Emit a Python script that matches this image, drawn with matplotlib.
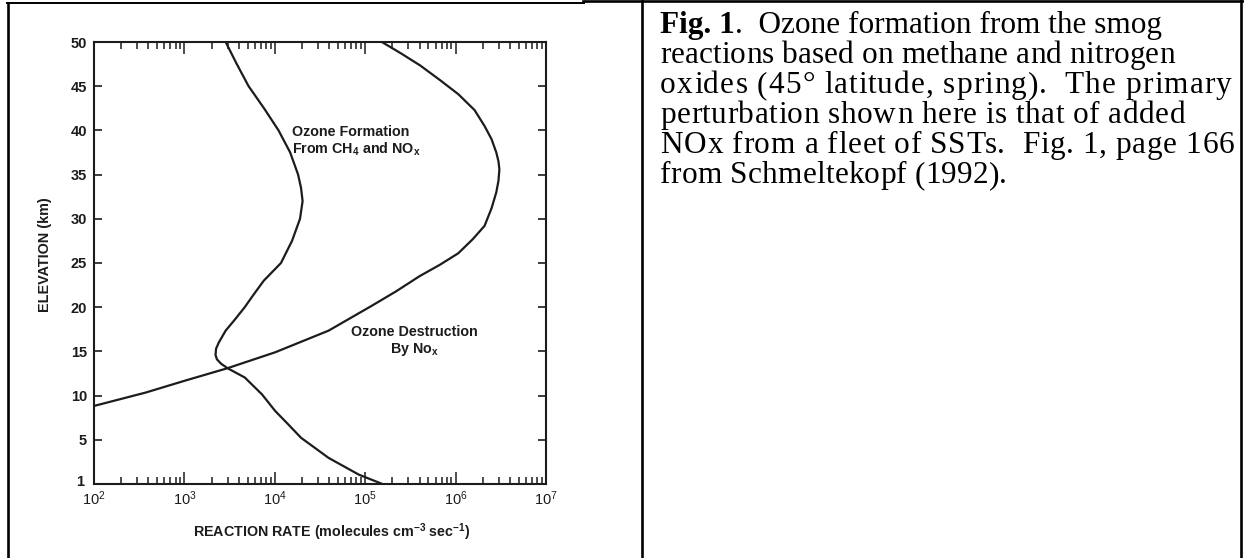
import matplotlib
matplotlib.use("Agg")
import matplotlib.pyplot as plt
from matplotlib.lines import Line2D
from matplotlib.transforms import ScaledTranslation

plt.rcParams['font.family'] = ['Liberation Sans', 'DejaVu Sans']
plt.rcParams['mathtext.fontset'] = 'custom'
plt.rcParams['mathtext.rm'] = 'Liberation Sans:bold'
plt.rcParams['mathtext.it'] = 'Liberation Sans:bold'
plt.rcParams['mathtext.bf'] = 'Liberation Sans:bold'
plt.rcParams['mathtext.default'] = 'regular'

ink = '#1c1c1c'

# ozone formation from CH4 and NOx: elevation (km) vs reaction rate
formation_km = [50, 47.5, 45, 42.5, 40, 37.5, 35, 33.5, 32, 30, 27.5, 25, 23,
                21.5, 20, 18.5, 17.35, 16, 15.3, 14.6, 14.1, 13.6, 13.1, 12.05,
                10.15, 8.26, 6.74, 5.23, 2.95, 1.06, 0]
formation_rate = [2.86e3, 3.80e3, 5.13e3, 7.6e3, 1.10e4, 1.48e4, 1.81e4,
                  1.95e4, 2.03e4, 1.90e4, 1.55e4, 1.17e4, 7.55e3, 5.9e3,
                  4.65e3, 3.55e3, 2.86e3, 2.40e3, 2.24e3, 2.21e3, 2.29e3,
                  2.55e3, 3.0e3, 4.65e3, 7.2e3, 1.01e4, 1.41e4, 1.95e4, 3.94e4,
                  8.5e4, 1.55e5]

# ozone destruction by NOx
destruction_km = [50, 48.7, 47.35, 45.7, 44.1, 42.3, 40.5, 39, 37.5, 36.5,
                  35.6, 34.3, 33, 31.2, 29.2, 27.7, 26.1, 24.8, 23.5, 21.8,
                  20.2, 17.35, 14.9, 13.1, 11.67, 10.34, 8.83]
destruction_rate = [1.53e5, 2.5e5, 4.05e5, 6.7e5, 1.07e6, 1.62e6, 2.09e6,
                    2.5e6, 2.82e6, 2.98e6, 3.05e6, 2.98e6, 2.82e6, 2.5e6,
                    2.09e6, 1.55e6, 1.07e6, 6.7e5, 3.98e5, 2.2e5, 1.2e5,
                    3.94e4, 1.01e4, 3.0e3, 1.0e3, 372, 100]

y_ticks = [0, 5, 10, 15, 20, 25, 30, 35, 40, 45, 50]
y_tick_labels = ['1', '5', '10', '15', '20', '25', '30', '35', '40', '45', '50']
x_ticks = [1e2, 1e3, 1e4, 1e5, 1e6, 1e7]
x_tick_labels = ['$10^{2}$', '$10^{3}$', '$10^{4}$', '$10^{5}$', '$10^{6}$', '$10^{7}$']

caption = [
    "reactions based on methane and nitrogen",
    "oxides (45\u00b0 latitude, spring).  The primary",
    "perturbation shown here is that of added",
    "NOx from a fleet of SSTs.  Fig. 1, page 166",
    "from Schmeltekopf (1992).",
]
caption_ends = [1175, 1233, 1186, 1235, 1007]   # right ends of the lines (px)

W, H = 1244, 558
fig = plt.figure(figsize=(W / 100, H / 100), dpi=100)
ax = fig.add_axes([94 / W, (H - 484) / H, 452 / W, 442 / H])

ax.plot(formation_rate, formation_km, color=ink, lw=1.6, solid_joinstyle='round')
ax.plot(destruction_rate, destruction_km, color=ink, lw=1.6, solid_joinstyle='round')

ax.set_xscale('log')
ax.set_xlim(1e2, 1e7)
ax.set_ylim(0, 50)
ax.set_xticks(x_ticks)
ax.set_xticklabels(x_tick_labels)
ax.set_yticks(y_ticks)
ax.set_yticklabels(y_tick_labels, fontweight='bold')

for s in ax.spines.values():
    s.set_linewidth(1.5)
    s.set_color(ink)
ax.xaxis.set_tick_params(which='major', direction='in', top=True, length=8.5,
                         width=1.1, pad=4, labelsize=10.5, colors=ink)
ax.xaxis.set_tick_params(which='minor', direction='in', top=True, length=5,
                         width=1.1, colors=ink)
ax.yaxis.set_tick_params(which='major', direction='in', right=True, length=6,
                         width=1.2, pad=5, labelsize=10.5, colors=ink)

# the "1" sits a little up and left of the corner
lab1 = ax.get_yticklabels()[0]
lab1.set_transform(lab1.get_transform() + ScaledTranslation(-0.03, 0.03, fig.dpi_scale_trans))

ax.set_xlabel('REACTION RATE (molecules cm$^{-3}$ sec$^{-1}$)', fontsize=10.3,
              fontweight='bold', color=ink)
ax.xaxis.set_label_coords(0.527, -0.084)
ax.set_ylabel('ELEVATION (km)', fontsize=10.4, fontweight='bold', color=ink)
ax.yaxis.set_label_coords(-0.094, 0.52)

ax.text(1.56e4, 40.6, 'Ozone Formation\nFrom CH$_4$ and NO$_x$', fontsize=10.3,
        fontweight='bold', color=ink, ha='left', va='top', linespacing=1.15)
ax.text(3.52e5, 18.0, 'Ozone Destruction\nBy No$_x$', fontsize=10.3,
        fontweight='bold', color=ink, ha='center', va='top',
        multialignment='center', linespacing=1.15)

# table borders
tr = fig.dpi_scale_trans
def border(xs, ys, lw=1.9):
    fig.add_artist(Line2D([x / 100 for x in xs], [(H - y) / 100 for y in ys],
                          transform=tr, color='black', lw=lw))

border([7, 584], [3, 3], lw=1.4)
border([583, 1243], [1, 1])
border([8, 8], [3, H])
border([642, 642], [0, H])
border([1241, 1241], [0, H])

# caption
serif = ['Liberation Serif', 'DejaVu Serif']
fs = 22.5
x0 = 660
renderer = fig.canvas.get_renderer()
t0 = fig.text(x0 / 100, (H - 33) / 100, 'Fig. 1', family=serif, fontsize=fs,
              fontweight='bold', va='baseline', transform=tr)
bb = t0.get_window_extent(renderer)
fig.text(bb.x1 / 100, (H - 33) / 100, '.  Ozone formation from the smog',
         family=serif, fontsize=fs, va='baseline', transform=tr)

probe = fig.text(0, 0, '', family=serif, fontsize=fs)
def text_w(s):
    probe.set_text(s)
    return probe.get_window_extent(renderer).width

# the scanned caption runs a bit wider than Liberation Serif, so spread the
# glyphs of each line evenly to reach the same right end
for i, (line, x_end) in enumerate(zip(caption, caption_ends)):
    y = (H - 33 - 30 * (i + 1)) / 100
    scale = (x_end - x0) / text_w(line)
    for k, ch in enumerate(line):
        if ch == ' ':
            continue
        left = text_w(line[:k + 1]) - text_w(ch)
        fig.text((x0 + scale * left) / 100, y, ch, family=serif, fontsize=fs,
                 va='baseline', transform=tr)
probe.remove()

fig.savefig('out.png', dpi=100)
